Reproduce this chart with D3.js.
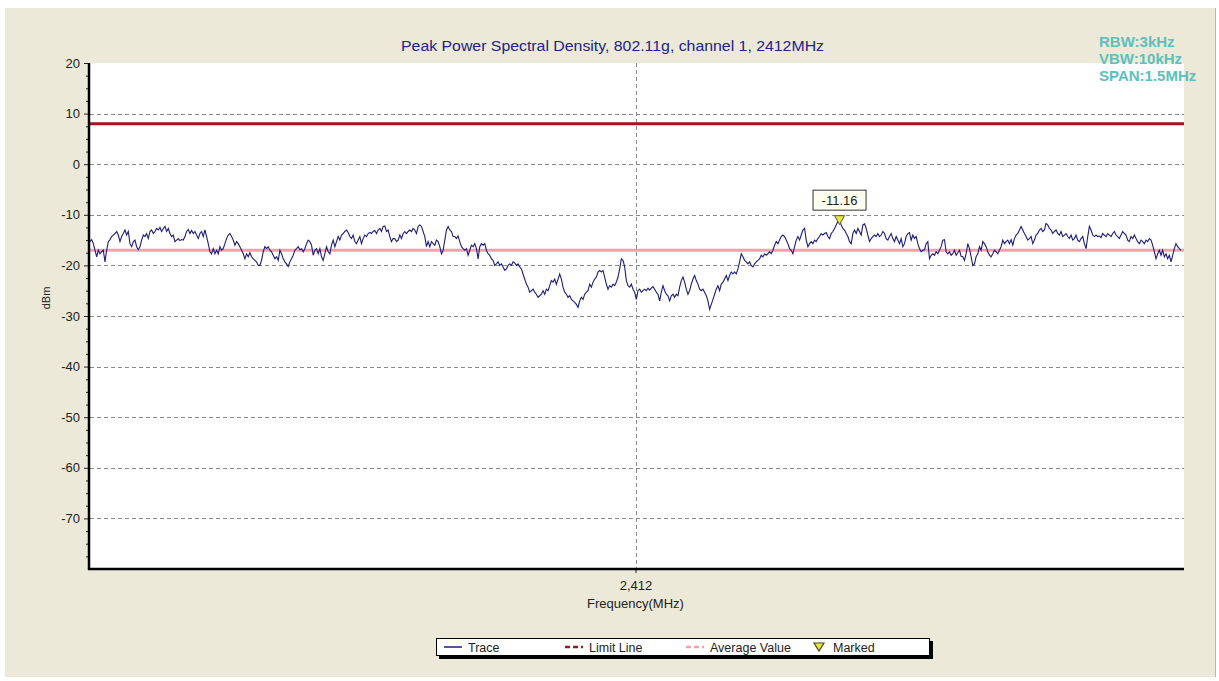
<!DOCTYPE html>
<meta charset="utf-8">
<html>
<head>
<style>
  body { margin: 0; background: #fff; }
  svg text { font-family: Arial, "Liberation Sans", sans-serif; }
  .axis path { display: none; }
  .axis line { stroke: #222; }
  .axis text { fill: #222; font-size: 13px; }
</style>
<script src="https://d3js.org/d3.v7.min.js"></script>
</head>
<body>
<svg width="1219" height="681"></svg>
<script>

// ---- data ----
var titleText = "Peak Power Spectral Density, 802.11g, channel 1, 2412MHz";
var infoLines = ["RBW:3kHz", "VBW:10kHz", "SPAN:1.5MHz"];
var freqStart = 2411.25, freqStop = 2412.75;   // 1.5 MHz span round 2412
var xTicks = [2412];
var yTicks = [20, 10, 0, -10, -20, -30, -40, -50, -60, -70];
var yGrid = [10, 0, -10, -20, -30, -40, -50, -60, -70];
var limitValue = 8;
var averageValue = -17;

var traceLeft = [
  -15.3,-14.9,-15.7,-17.0,-18.3,-17.0,-17.7,-17.3,-17.0,-19.3,-17.0,-15.3,-14.9,-14.3,-14.0,-13.7,-13.3,-14.0,-15.3,-14.3,
  -13.7,-13.0,-14.0,-13.3,-15.7,-16.3,-15.3,-15.0,-16.3,-16.9,-16.3,-15.0,-14.0,-14.3,-13.7,-14.7,-13.3,-13.0,-13.7,-13.3,
  -12.7,-13.0,-12.5,-13.3,-12.7,-12.3,-13.3,-12.7,-13.7,-14.3,-14.0,-15.3,-15.0,-14.7,-15.1,-14.9,-15.0,-14.3,-13.3,-12.9,
  -13.7,-13.1,-13.7,-13.3,-14.0,-14.7,-13.7,-13.3,-14.3,-13.0,-14.3,-15.7,-17.3,-17.7,-16.7,-17.7,-17.0,-17.7,-16.3,-17.0,
  -16.7,-15.7,-14.7,-14.0,-13.7,-14.3,-15.0,-16.0,-15.3,-15.7,-16.3,-17.0,-17.7,-18.7,-17.7,-18.3,-17.5,-18.3,-18.7,-19.0,
  -19.3,-20.0,-20.0,-19.0,-17.3,-16.3,-16.7,-16.3,-17.0,-17.3,-18.0,-18.7,-18.3,-19.0,-17.0,-17.7,-18.7,-19.3,-19.7,-20.2,
  -19.3,-18.7,-18.0,-17.0,-16.7,-16.3,-16.9,-16.7,-17.3,-16.7,-15.7,-15.0,-15.3,-16.0,-18.0,-17.0,-16.7,-17.7,-16.7,-18.3,
  -19.0,-17.7,-16.3,-17.3,-17.7,-16.0,-15.0,-16.3,-15.3,-14.3,-15.0,-14.0,-13.7,-13.3,-13.0,-13.5,-14.3,-14.7,-14.0,-15.3,
  -15.7,-15.0,-14.3,-15.7,-14.7,-14.0,-14.3,-13.7,-13.5,-13.7,-13.3,-13.1,-13.7,-13.0,-12.7,-13.3,-12.3,-12.2,-13.3,-13.0,
  -14.3,-15.3,-14.7,-14.7,-15.3,-15.0,-14.0,-14.7,-13.7,-13.3,-13.7,-13.3,-13.0,-13.3,-12.7,-13.0,-13.7,-12.3,-12.0,-12.3,
  -13.3,-14.3,-16.3,-15.3,-16.3,-15.3,-15.7,-16.0,-15.0,-15.3,-16.3,-17.7,-17.0,-15.0,-13.0,-12.3,-13.0,-13.3,-14.3
];
var traceMid = [
  -14.3,-14.7,-14.2,-15.3,-16.3,-16.7,-17.0,-16.7,-18.0,-17.0,-16.0,-16.3,-15.7,-16.7,-18.7,-16.3,-15.7,-16.0,-15.7,-17.0,
  -17.7,-18.0,-18.7,-19.0,-20.0,-19.7,-19.3,-20.0,-19.7,-20.3,-21.0,-20.7,-20.0,-19.7,-20.0,-19.3,-19.5,-20.0,-19.7,-20.3,
  -20.7,-21.7,-22.7,-23.7,-24.3,-25.3,-25.0,-24.7,-25.3,-25.7,-26.3,-26.0,-25.7,-25.0,-25.7,-24.7,-25.0,-24.0,-23.0,-23.3,
  -22.7,-23.7,-22.7,-21.7,-22.7,-24.3,-25.3,-25.7,-26.3,-26.0,-26.7,-27.0,-27.3,-27.7,-28.3,-27.0,-26.3,-26.7,-25.7,-25.3,
  -25.0,-23.7,-24.3,-23.3,-22.7,-22.3,-21.3,-21.0,-21.3,-21.0,-22.3,-23.7,-24.7,-24.0,-24.3,-23.7,-24.0,-23.3,-22.3,-20.7,
  -18.7,-19.0,-20.3,-23.0,-24.0,-24.3,-23.7,-24.7,-25.3,-26.7,-25.0,-24.7,-25.3,-25.0,-24.7,-25.0,-24.5,-24.9,-24.5,-24.2,
  -24.7,-25.3,-25.7,-27.0,-25.3,-24.0,-25.0,-25.7,-26.0,-27.0,-26.0,-25.7,-26.3,-25.7,-26.0,-24.3,-23.0,-22.3,-23.3,-24.7,
  -25.7,-25.0,-23.7,-22.7,-22.0,-23.0,-23.7,-24.7,-25.0,-24.7,-25.3,-26.0,-27.0,-28.7,-27.7,-26.7,-25.7,-24.7,-24.0,-25.0,
  -23.7,-23.3,-22.7,-22.0,-23.0,-22.0,-21.3,-21.7,-21.3,-21.7,-20.7,-19.3,-17.7,-18.3,-19.0,-19.3,-19.7,-19.3,-20.0,-20.3,
  -19.7,-19.3,-19.0,-18.7,-18.0,-18.3,-17.7,-18.0,-17.7,-17.3,-17.7,-17.0,-16.0,-15.3,-15.7,-15.0,-14.3,-14.0,-14.3,-15.0,
  -15.7,-16.7,-17.0,-17.7,-16.3,-15.0,-14.3,-15.0,-14.0,-13.0,-12.7,-15.0,-16.3,-15.7,-15.3,-15.7,-15.0,-15.3,-14.7,-14.3
];
var traceRight = [
  -13.7,-14.0,-13.7,-13.5,-14.3,-14.7,-13.7,-13.3,-12.7,-12.0,-11.3,-11.16,-12.0,-12.7,-13.0,-13.7,-14.3,-15.3,-15.7,-13.7,
  -13.0,-13.7,-12.7,-13.3,-14.0,-12.0,-11.8,-12.7,-14.0,-15.3,-14.7,-14.3,-14.0,-14.3,-13.7,-14.3,-14.0,-13.3,-13.7,-14.7,
  -15.0,-14.3,-13.7,-14.7,-15.3,-14.3,-15.0,-15.7,-14.7,-16.3,-15.7,-14.3,-13.7,-13.5,-15.0,-14.0,-14.7,-14.3,-15.7,-16.7,
  -17.3,-17.0,-16.9,-15.7,-15.3,-18.7,-18.0,-17.7,-18.0,-17.3,-17.7,-17.0,-16.3,-15.0,-14.9,-17.3,-17.7,-17.3,-18.0,-17.7,
  -17.0,-18.0,-17.5,-17.0,-18.2,-18.3,-19.0,-17.7,-15.7,-16.7,-18.3,-20.0,-19.7,-18.3,-17.7,-16.3,-17.0,-15.3,-15.7,-16.3,
  -17.3,-18.0,-18.3,-17.7,-17.0,-17.3,-17.7,-17.0,-16.3,-15.0,-15.7,-15.3,-15.0,-15.7,-14.9,-16.0,-14.7,-14.0,-13.7,-13.0,
  -12.3,-13.0,-13.7,-14.3,-15.0,-14.7,-14.3,-15.7,-15.0,-14.0,-13.7,-13.0,-12.7,-13.3,-13.0,-11.7,-12.0,-12.7,-13.0,-13.7,
  -13.3,-13.0,-13.7,-14.0,-13.3,-14.3,-14.0,-13.7,-14.3,-14.7,-14.0,-15.0,-14.7,-14.0,-15.0,-15.3,-14.7,-14.3,-15.7,-16.7,
  -14.3,-12.3,-13.0,-14.0,-14.3,-14.0,-14.3,-14.2,-14.5,-13.7,-14.0,-14.3,-13.7,-14.0,-14.3,-13.7,-13.3,-14.0,-14.3,-14.7,
  -14.0,-13.3,-13.7,-14.0,-15.0,-15.3,-14.3,-14.7,-14.0,-14.7,-15.3,-15.7,-15.0,-15.3,-15.7,-15.0,-15.3,-14.7,-15.0,-16.0,
  -17.3,-18.7,-17.7,-17.0,-18.0,-17.0,-18.3,-17.7,-18.7,-18.0,-19.3,-18.0,-16.7,-15.7,-16.3,-16.7,-17.0
];

var legendItems = [
  {name: "Trace", kind: "trace"},
  {name: "Limit Line", kind: "limit"},
  {name: "Average Value", kind: "average"},
  {name: "Marked", kind: "marker"}
];

// ---- chart ----
var trace = traceLeft.concat(traceMid, traceRight);
var step = (freqStop - freqStart) / (trace.length - 1);
var points = trace.map(function(v, i) { return {f: freqStart + i * step, v: v}; });

var svg = d3.select("svg");
var plot = {left: 90, right: 1184, top: 63, bottom: 569};

var x = d3.scaleLinear().domain([freqStart, freqStop]).range([plot.left, plot.right - 3]);
var y = d3.scaleLinear().domain([-80, 20]).range([plot.bottom, plot.top]);

var colTrace = "#1c1c7c", colLimit = "#a3141c", colAvg = "#f4a0aa";

// panel
svg.append("rect").attr("x", 5).attr("y", 8).attr("width", 1210).attr("height", 669)
  .attr("fill", "#ece9d8");
svg.append("line").attr("x1", 1215.5).attr("x2", 1215.5).attr("y1", 8).attr("y2", 677)
  .attr("stroke", "#b8b5a8");
svg.append("rect").attr("x", plot.left).attr("y", plot.top)
  .attr("width", plot.right - plot.left).attr("height", plot.bottom - plot.top)
  .attr("fill", "#fff");

// gridlines
var g = svg.append("g");
g.selectAll(".hgrid").data(yGrid).enter().append("line")
  .attr("x1", plot.left).attr("x2", plot.right)
  .attr("y1", function(d) { return Math.round(y(d)) + 0.5; })
  .attr("y2", function(d) { return Math.round(y(d)) + 0.5; })
  .attr("stroke", "#8a8a8a").attr("stroke-dasharray", "4,3");
g.selectAll(".vgrid").data(xTicks).enter().append("line")
  .attr("x1", function(d) { return Math.round(x(d)) + 0.5; })
  .attr("x2", function(d) { return Math.round(x(d)) + 0.5; })
  .attr("y1", plot.top).attr("y2", plot.bottom)
  .attr("stroke", "#8a8a8a").attr("stroke-dasharray", "4,3");

// limit and average lines
g.append("line").attr("x1", plot.left).attr("x2", plot.right)
  .attr("y1", y(limitValue)).attr("y2", y(limitValue))
  .attr("stroke", colLimit).attr("stroke-width", 3);
g.append("line").attr("x1", plot.left).attr("x2", plot.right)
  .attr("y1", y(averageValue)).attr("y2", y(averageValue))
  .attr("stroke", colAvg).attr("stroke-width", 3);

// trace
var line = d3.line().x(function(d) { return x(d.f); }).y(function(d) { return y(d.v); });
g.append("path").datum(points).attr("d", line)
  .attr("fill", "none").attr("stroke", colTrace).attr("stroke-width", 1.1);

// axes
var minor = d3.range(-80, 20.01, 2.5).filter(function(d) { return d % 10 !== 0; });
svg.append("g").attr("class", "axis")
  .attr("transform", "translate(" + (plot.left - 1) + ",0)")
  .call(d3.axisLeft(y).tickValues(minor).tickSize(3).tickFormat(""));
svg.append("g").attr("class", "axis")
  .attr("transform", "translate(" + (plot.left - 1) + ",0)")
  .call(d3.axisLeft(y).tickValues(yTicks).tickSize(5).tickPadding(4)
    .tickFormat(function(d) { return String(d); }));
svg.append("g").attr("class", "axis")
  .attr("transform", "translate(0," + plot.bottom + ")")
  .call(d3.axisBottom(x).tickValues(xTicks).tickSize(4).tickPadding(8)
    .tickFormat(d3.format(",")));

svg.append("line").attr("x1", plot.left - 1).attr("x2", plot.left - 1)
  .attr("y1", plot.top).attr("y2", plot.bottom + 1)
  .attr("stroke", "#000").attr("stroke-width", 2.5);
svg.append("line").attr("x1", plot.left - 2).attr("x2", plot.right)
  .attr("y1", plot.bottom).attr("y2", plot.bottom)
  .attr("stroke", "#000").attr("stroke-width", 2.5);

// labels
svg.append("text").attr("x", 401).attr("y", 51)
  .attr("textLength", 423).attr("lengthAdjust", "spacingAndGlyphs")
  .attr("font-size", "14px").attr("fill", "#22228a").text(titleText);
svg.append("text").attr("transform", "translate(50,298) rotate(-90)")
  .attr("text-anchor", "middle").attr("font-size", "11px").attr("fill", "#222").text("dBm");
svg.append("text").attr("x", x(xTicks[0])).attr("y", 608).attr("text-anchor", "middle")
  .attr("font-size", "13px").attr("fill", "#222").text("Frequency(MHz)");

svg.selectAll(".info").data(infoLines).enter().append("text")
  .attr("x", 1099).attr("y", function(d, i) { return 47 + i * 17; })
  .attr("font-size", "15px").attr("font-weight", "bold").attr("fill", "#5cc0bc")
  .text(function(d) { return d; });

// marker on the highest point
var peak = d3.greatest(points, function(d) { return d.v; });
var mx = x(peak.f), my = y(peak.v);
svg.append("path")
  .attr("d", "M" + (mx - 5) + "," + (my - 5) + "L" + (mx + 5) + "," + (my - 5) + "L" + mx + "," + (my + 4) + "Z")
  .attr("fill", "#e6e64a").attr("stroke", "#5a5a20").attr("stroke-width", 1);
var lab = svg.append("g");
lab.append("rect").attr("x", mx - 26.5).attr("y", my - 30.5).attr("width", 53).attr("height", 20)
  .attr("fill", "#fffff0").attr("stroke", "#333");
lab.append("text").attr("x", mx).attr("y", my - 15.5).attr("text-anchor", "middle")
  .attr("font-size", "13px").attr("fill", "#222").text(peak.v.toFixed(2));

// legend
var leg = svg.append("g").attr("transform", "translate(436,638)");
leg.append("rect").attr("x", 3).attr("y", 3).attr("width", 494).attr("height", 18).attr("fill", "#000");
leg.append("rect").attr("x", 0.5).attr("y", 0.5).attr("width", 493).attr("height", 17)
  .attr("fill", "#fff").attr("stroke", "#000");
var legX = [8, 129, 250, 375];
var item = leg.selectAll(".item").data(legendItems).enter().append("g")
  .attr("transform", function(d, i) { return "translate(" + legX[i] + ",9)"; });
item.each(function(d) {
  var s = d3.select(this);
  if (d.kind === "trace") {
    s.append("line").attr("x1", 0).attr("x2", 18).attr("stroke", colTrace).attr("stroke-width", 1.5);
  } else if (d.kind === "limit") {
    s.append("line").attr("x1", 0).attr("x2", 18).attr("stroke", colLimit)
      .attr("stroke-width", 2.5).attr("stroke-dasharray", "5,3");
  } else if (d.kind === "average") {
    s.append("line").attr("x1", 0).attr("x2", 18).attr("stroke", colAvg)
      .attr("stroke-width", 2.5).attr("stroke-dasharray", "5,3");
  } else {
    s.append("path").attr("d", "M3,-4L13,-4L8,4Z").attr("fill", "#e6e64a")
      .attr("stroke", "#4a4a18").attr("stroke-width", 1.2);
  }
  s.append("text").attr("x", d.kind === "marker" ? 22 : 24).attr("y", 4.5)
    .attr("font-size", "12.5px").attr("fill", "#222").text(d.name);
});

</script>
</body>
</html>
